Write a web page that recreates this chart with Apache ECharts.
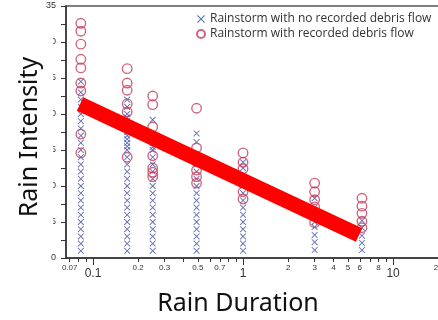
<!DOCTYPE html>
<html>
<head>
<meta charset="utf-8">
<script src="https://cdn.jsdelivr.net/npm/echarts@6/dist/echarts.min.js"></script>
<style>
  html, body { margin: 0; padding: 0; background: #fff; }
  #chart { width: 438px; height: 320px; }
</style>
</head>
<body>
<div id="chart"></div>
<script>
// rain duration of each column of storms
var durations = [0.083, 0.169, 0.25, 0.49, 1.0, 3.0, 6.2];

// intensities, one list per column
var noFlowIntensity = [
  [1, 2, 3, 4, 5, 6, 7, 8, 9, 10, 11, 12, 13, 14, 15, 16, 17, 18, 19, 20, 21, 22, 23, 24.5],
  [1, 2, 3, 4, 5, 6, 7, 8, 9, 10, 11, 12, 13, 14, 15, 15.5, 16, 16.5, 17, 17.5, 18, 18.5, 19, 19.5, 20, 21, 22],
  [1, 2, 3, 4, 5, 6, 7, 8, 9, 10, 11, 12, 13, 14, 15, 15.4, 16, 17, 19.2],
  [1, 2, 3, 4, 5, 6, 7, 8, 9, 10, 11, 12, 13, 14, 16.1, 17.3],
  [1, 2, 3, 4, 5, 6, 7, 8, 9, 10, 11, 12.5, 13.3],
  [1.1, 2.2, 3.2, 4.3, 5, 6, 7, 8.3],
  [1.1, 2.1, 3.1, 4.2, 5.2]
];
var flowIntensity = [
  [32.6, 31.5, 29.7, 27.6, 26.4, 24.3, 23.2, 17.2, 14.6],
  [26.3, 24.3, 23.3, 21.4, 20.3, 14.0],
  [22.5, 21.3, 18.2, 14.2, 12.5, 11.9, 11.3],
  [20.8, 15.3, 13.4, 12.2, 11.3, 10.4],
  [14.6, 13.3, 12.4, 9.2, 8.2],
  [10.4, 9.2, 8.1, 7.1, 6.0, 4.9],
  [8.3, 7.2, 6.2, 5.1, 4.2]
];

// hand drawn threshold line
var trendDuration = [0.082, 5.93];
var trendIntensity = [21.4, 3.2];

var xTickValues = [0.07, 0.08, 0.09, 0.1, 0.2, 0.3, 0.4, 0.5, 0.6, 0.7, 0.8, 0.9,
  1, 2, 3, 4, 5, 6, 7, 8, 9, 10, 20];
var xLabelValues = [0.07, 0.1, 0.2, 0.3, 0.5, 0.7, 1, 2, 3, 4, 5, 6, 8, 10, 20];
var xMajorValues = [0.1, 1, 10];

var nameNoFlow = "Rainstorm with no recorded debris flow";
var nameFlow = "Rainstorm with recorded debris flow";

function toPoints(lists) {
  var pts = [];
  for (var i = 0; i < durations.length; i++) {
    for (var j = 0; j < lists[i].length; j++) {
      pts.push([durations[i], lists[i][j]]);
    }
  }
  return pts;
}

var trendLine = trendDuration.map(function (d, i) {
  return [d, trendIntensity[i]];
});

var crossPath = "path://M0,1L1,0L5,4L9,0L10,1L6,5L10,9L9,10L5,6L1,10L0,9L4,5Z";

var myChart = echarts.init(document.getElementById("chart"));
var xMin = 0.0661, xMax = 21.5;

var option = {
  animation: false,
  textStyle: { fontFamily: "Liberation Sans" },
  grid: {
    left: 66,
    top: 6,
    width: 377,
    height: 252,
    outerBoundsMode: "none",
    show: true,
    borderColor: "#555",
    borderWidth: 1.5,
    containLabel: false
  },
  legend: {
    orient: "vertical",
    left: 191,
    top: 8,
    itemWidth: 8,
    itemHeight: 8,
    itemGap: 3,
    data: [nameNoFlow, nameFlow],
    textStyle: { fontFamily: "Open Sans", fontSize: 12, color: "#333" }
  },
  xAxis: [
    {
      type: "log",
      min: xMin,
      max: xMax,
      axisLine: { lineStyle: { color: "#333", width: 1.5 } },
      splitLine: { show: false },
      minorTick: { show: false },
      axisTick: {
        customValues: xTickValues,
        length: 4,
        lineStyle: { color: "#333" }
      },
      axisLabel: {
        customValues: xLabelValues,
        margin: 6,
        formatter: function (v) {
          var s = String(+Number(v).toPrecision(3));
          var big = xMajorValues.some(function (m) { return Math.abs(m - v) < 1e-6; });
          return big ? "{big|" + s + "}" : "{small|" + s + "}";
        },
        rich: {
          small: { fontSize: 8, color: "#333", padding: [0, 0, 2, 0] },
          big: { fontSize: 12, color: "#333", padding: [4, 0, 0, 0] }
        }
      }
    },
    {
      type: "log",
      min: xMin,
      max: xMax,
      position: "bottom",
      axisLine: { show: false },
      splitLine: { show: false },
      axisLabel: { show: false },
      axisTick: {
        customValues: xMajorValues,
        length: 7,
        lineStyle: { color: "#333" }
      }
    }
  ],
  yAxis: {
    type: "value",
    min: 0,
    max: 35,
    interval: 5,
    axisLine: { show: true, lineStyle: { color: "#333", width: 1.5 } },
    splitLine: { show: false },
    axisTick: { show: true, length: 5, lineStyle: { color: "#333" } },
    minorTick: { show: true, splitNumber: 2, length: 5, lineStyle: { color: "#333" } },
    axisLabel: { fontSize: 9, color: "#333", margin: 10 }
  },
  graphic: [
    {
      type: "rect",
      left: 0,
      top: 18,
      z: 100,
      shape: { width: 53, height: 216 },
      style: { fill: "#fff" }
    },
    {
      type: "text",
      x: 30,
      y: 137,
      rotation: Math.PI / 2,
      z: 101,
      style: {
        text: "Rain Intensity",
        fontFamily: "Noto Sans",
        fontSize: 25,
        fill: "#111",
        align: "center",
        verticalAlign: "middle"
      }
    },
    {
      type: "text",
      x: 238,
      y: 304,
      z: 101,
      style: {
        text: "Rain Duration",
        fontFamily: "Noto Sans",
        fontSize: 25,
        fill: "#111",
        align: "center",
        verticalAlign: "middle"
      }
    }
  ],
  series: [
    {
      name: nameNoFlow,
      type: "scatter",
      symbol: crossPath,
      symbolSize: 6.5,
      itemStyle: { color: "#3c4ea6" },
      data: toPoints(noFlowIntensity)
    },
    {
      name: nameFlow,
      type: "scatter",
      symbol: "circle",
      symbolSize: 9.5,
      itemStyle: {
        color: "rgba(255,255,255,0)",
        borderColor: "#c4405c",
        borderWidth: 1.4
      },
      data: toPoints(flowIntensity)
    },
    {
      name: "threshold",
      type: "line",
      symbol: "none",
      silent: true,
      z: 5,
      lineStyle: { color: "#ff0000", width: 15, cap: "butt" },
      data: trendLine
    }
  ]
};

myChart.setOption(option);
window.addEventListener("resize", function () {
  myChart.resize();
});
</script>
</body>
</html>
